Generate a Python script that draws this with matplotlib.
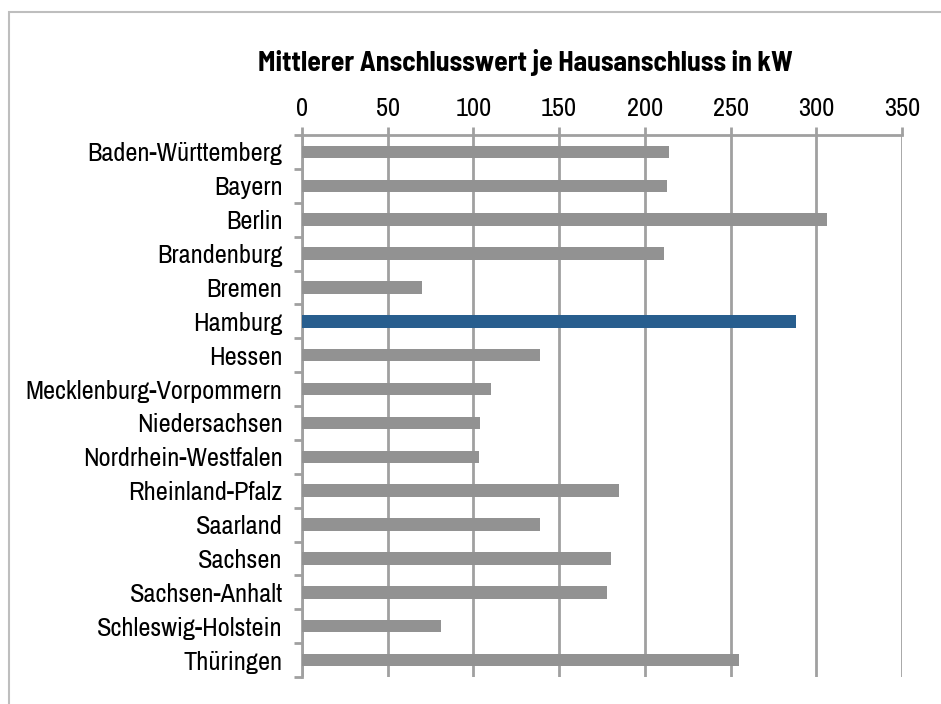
import matplotlib
matplotlib.use("Agg")
import matplotlib.pyplot as plt
from matplotlib.patches import Rectangle
import numpy as np

plt.rcParams['font.family'] = ['Archivo Narrow', 'DejaVu Sans']

categories = ["Baden-Württemberg", "Bayern", "Berlin", "Brandenburg", "Bremen", "Hamburg",
              "Hessen", "Mecklenburg-Vorpommern", "Niedersachsen", "Nordrhein-Westfalen",
              "Rheinland-Pfalz", "Saarland", "Sachsen", "Sachsen-Anhalt",
              "Schleswig-Holstein", "Thüringen"]
values = [214, 213, 306, 211, 70, 288, 139, 110, 104, 103, 185, 139, 180, 178, 81, 255]
highlight = "Hamburg"
xticks = [0, 50, 100, 150, 200, 250, 300, 350]
title = "Mittlerer Anschlusswert je Hausanschluss in kW"

W, H = 941, 704
fig = plt.figure(figsize=(W / 100, H / 100), dpi=100)

# outer frame
fig.patches.append(Rectangle((9 / W, -0.1), 1.2, 1 - 12 / H + 0.1, transform=fig.transFigure,
                             fill=False, edgecolor="#BEBEBE", linewidth=1.5))

left, right, top, bottom = 302, 902, 135, 677
ax = fig.add_axes([left / W, 1 - bottom / H, (right - left) / W, (bottom - top) / H])

grey = "#929292"
blue = "#285E8E"
colors = [blue if c == highlight else grey for c in categories]
y = np.arange(len(categories))
ax.barh(y, values, height=0.37, color=colors, zorder=3)

ax.set_xlim(0, 350)
ax.set_ylim(len(categories) - 0.5, -0.5)
ax.set_xticks(xticks)
ax.set_xticklabels([str(t) for t in xticks])
ax.xaxis.tick_top()
ax.set_yticks(y)
ax.set_yticklabels(categories)
ax.set_yticks(np.arange(-0.5, len(categories), 1), minor=True)

gc = "#A0A0A0"
ax.grid(axis="x", color=gc, linewidth=2, zorder=1)
for s in ["bottom", "right"]:
    ax.spines[s].set_visible(False)
for s in ["top", "left"]:
    ax.spines[s].set_color(gc)
    ax.spines[s].set_linewidth(2)

ax.tick_params(axis="x", which="major", length=6, width=2, color=gc, labelsize=19,
               pad=5, labelcolor="black")
ax.tick_params(axis="y", which="major", length=0, labelsize=19, pad=14, labelcolor="black")
ax.tick_params(axis="y", which="minor", length=6, width=2, color=gc)

fig.text(525 / W, 1 - 62 / H, title, ha="center", va="center", fontsize=20,
         fontweight="bold", family=['Barlow Semi Condensed', 'DejaVu Sans'])

fig.savefig("out.png", dpi=100)
